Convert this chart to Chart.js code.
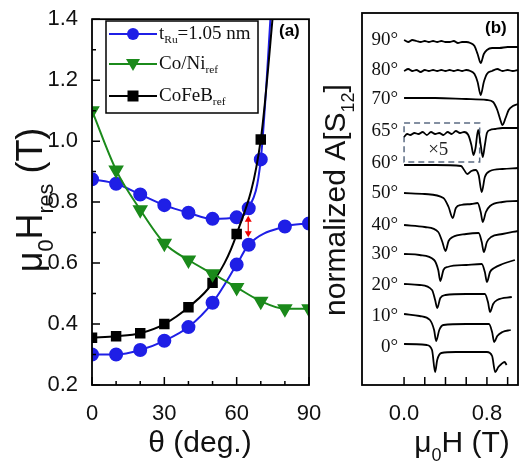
<!DOCTYPE html>
<html><head><meta charset="utf-8">
<script src="https://cdn.jsdelivr.net/npm/chart.js@4/dist/chart.umd.min.js"></script>
<style>body{margin:0;background:#fff;width:520px;height:466px;position:relative;overflow:hidden}
canvas{position:absolute;top:0}</style></head><body>
<canvas id="ca" width="330" height="466" style="left:0"></canvas>
<canvas id="cb" width="200" height="466" style="left:320px"></canvas>
<script>
// ---- Panel (a) data ----
const thetaBlueUp = [0,10,20,30,40,50,60,65,70,74.8];
const blueUp = [0.875,0.86,0.825,0.79,0.765,0.745,0.75,0.78,0.94,1.5];
const thetaBlueLow = [0,10,20,30,40,50,60,65,80,90];
const blueLow = [0.30,0.30,0.315,0.345,0.39,0.47,0.595,0.66,0.72,0.73];
const thetaGreen = [0,10,20,30,40,50,60,70,80,90];
const green = [1.10,0.905,0.775,0.665,0.61,0.565,0.52,0.475,0.45,0.45];
const thetaBlack = [0,10,20,30,40,50,60,70,76];
const black = [0.355,0.36,0.37,0.40,0.455,0.535,0.695,1.005,1.5];
const xTicksA = [0,30,60,90];
const yTicksA = [0.2,0.4,0.6,0.8,1.0,1.2,1.4];
// ---- Panel (b) data: field (T) and offset amplitude ----
const traces = [
 {label:'0°', x:[0,0.22,0.27,0.30,0.32,0.36,0.5,0.8,0.85,0.88,0.91,0.94,0.97,0.99], v:[4.6,4.5,4.0,1.8,3.0,3.7,3.8,3.8,3.4,1.8,2.3,2.6,2.8,2.5], ly:347},
 {label:'10°', x:[0,0.15,0.25,0.29,0.31,0.34,0.38,0.6,0.82,0.85,0.87,0.9,0.95,1.03], v:[7.6,7.4,7.0,6.0,4.9,6.0,6.5,6.6,6.6,5.8,4.8,5.4,5.8,6.0], ly:316},
 {label:'20°', x:[0,0.15,0.27,0.30,0.32,0.35,0.40,0.6,0.78,0.81,0.83,0.86,0.9,1.04], v:[10.6,10.5,10.0,9.0,8.2,9.2,9.5,9.6,9.6,8.8,7.8,8.6,9.0,9.3], ly:285},
 {label:'30°', x:[0,0.15,0.29,0.33,0.35,0.38,0.42,0.6,0.75,0.78,0.80,0.83,0.87,0.95,1.07], v:[13.6,13.5,13.0,12.0,10.9,12.0,12.3,12.5,12.6,11.8,10.8,11.8,12.2,12.6,13.0], ly:254},
 {label:'40°', x:[0,0.2,0.33,0.37,0.40,0.43,0.47,0.6,0.72,0.75,0.77,0.80,0.84,0.95,1.1], v:[16.5,16.3,15.8,14.8,13.9,14.9,15.3,15.6,15.7,14.8,13.8,14.8,15.3,15.6,15.9], ly:225},
 {label:'50°', x:[0,0.2,0.38,0.43,0.47,0.50,0.55,0.65,0.71,0.74,0.76,0.79,0.83,0.95,1.1], v:[19.7,19.6,19.2,18.3,17.2,18.2,18.5,18.6,18.7,17.8,16.8,17.8,18.4,18.8,18.9], ly:193},
 {label:'60°', x:[0,0.3,0.55,0.58,0.61,0.65,0.69,0.72,0.75,0.78,0.83,0.95,1.1], v:[22.5,22.5,22.4,22.0,21.6,21.9,22.0,21.5,19.8,21.3,21.9,22.1,22.2], ly:163},
 {label:'65°', x:[0,0.03,0.06,0.1,0.14,0.18,0.22,0.26,0.3,0.34,0.38,0.42,0.46,0.5,0.54,0.58,0.62,0.65,0.67,0.69,0.715,0.74,0.76,0.78,0.80,0.83,0.88,0.95,1.02,1.1], v:[25.3,25.6,25.5,25.7,25.6,25.8,25.5,25.8,25.6,25.7,25.5,25.8,25.6,25.9,25.7,25.8,25.5,24.5,23.5,24.2,26.0,24.5,23.3,24.5,25.7,26.0,26.1,26.2,26.2,26.2], ly:131},
 {label:'70°', x:[0,0.3,0.6,0.8,0.86,0.90,0.93,0.95,0.98,1.01,1.05,1.1], v:[29.2,29.2,29.1,29.0,28.8,28.0,27.0,26.5,27.2,28.0,28.4,28.6], ly:99},
 {label:'80°', x:[0,0.04,0.08,0.12,0.16,0.2,0.24,0.28,0.32,0.36,0.4,0.44,0.48,0.52,0.56,0.6,0.64,0.68,0.71,0.74,0.77,0.80,0.85,0.9,0.95,1.0,1.05,1.1], v:[31.9,32.1,31.9,32.0,31.8,32.0,31.9,32.0,31.9,32.0,31.9,32.0,31.9,32.0,31.9,32.0,31.9,31.6,30.8,29.5,30.8,31.6,31.9,32.1,31.9,32.0,31.9,32.0], ly:70},
 {label:'90°', x:[0,0.04,0.08,0.12,0.16,0.2,0.24,0.28,0.32,0.36,0.4,0.44,0.48,0.52,0.56,0.6,0.64,0.68,0.71,0.74,0.77,0.80,0.85,0.92,1.0,1.1], v:[35.0,34.8,35.0,34.9,34.8,34.9,34.8,34.9,34.8,34.9,34.8,34.8,34.9,34.7,34.8,34.8,34.7,34.4,33.6,32.7,33.6,34.0,34.2,34.2,34.3,34.3], ly:40}
];
const boxX = [0,0.73,0.73,0,0];
const boxV = [26.7,26.7,22.8,22.8,26.7];
const xTicksB = [0.0,0.8];

const BLUE='#1f1fe6', GREEN='#1b8a1b', BLK='#000';
const SANS='"Liberation Sans", Arial, sans-serif', SERIF='"Liberation Serif", "Times New Roman", serif';
const pts=(xs,ys)=>xs.map((x,i)=>({x,y:ys[i]}));

function drawSubText(ctx, parts, x, y, size, align, font){
  let w=0; parts.forEach(p=>{ctx.font=(p[1]?size*0.6:size)+'px '+font; w+=ctx.measureText(p[0]).width;});
  let cx = align==='center'? x-w/2 : x;
  parts.forEach(p=>{const s=p[1]?size*0.6:size; ctx.font=s+'px '+font; ctx.fillText(p[0],cx,y+(p[1]?size*0.3:0)); cx+=ctx.measureText(p[0]).width;});
}
function inwardTicks(ctx, chart, xs, xMajor, ys, yMajor){
  const a=chart.chartArea, sx=chart.scales.x, sy=chart.scales.y;
  ctx.strokeStyle='#000'; ctx.lineWidth=1.5; ctx.beginPath();
  xs.forEach(v=>{const p=sx.getPixelForValue(v); const L=xMajor(v)?8:4; ctx.moveTo(p,a.bottom); ctx.lineTo(p,a.bottom-L);});
  ys.forEach(v=>{const p=sy.getPixelForValue(v); const L=yMajor(v)?8:4; ctx.moveTo(a.left,p); ctx.lineTo(a.left+L,p);});
  ctx.stroke();
  ctx.lineWidth=1.8; ctx.strokeRect(a.left,a.top,a.right-a.left,a.bottom-a.top);
}
function marker(ctx,type,x,y,c){
  ctx.fillStyle=c; ctx.beginPath();
  if(type==='circle'){ctx.arc(x,y,6,0,Math.PI*2);}
  else if(type==='tri'){ctx.moveTo(x-7,y-5);ctx.lineTo(x+7,y-5);ctx.lineTo(x,y+7);ctx.closePath();}
  else {ctx.rect(x-5.5,y-5.5,11,11);}
  ctx.fill();
}
const plugA={id:'pa',afterDraw(chart){
  const ctx=chart.ctx; ctx.save();
  const xs=[];for(let v=0;v<=90;v+=10)xs.push(v);
  const ys=[];for(let v=2;v<=14;v++)ys.push(v/10);
  inwardTicks(ctx,chart,xs,v=>v%30===0,ys,v=>Math.round(v*10)%2===0);
  ctx.fillStyle='#fff'; ctx.fillRect(106,21,152,92);
  ctx.lineWidth=1.5; ctx.strokeStyle='#000'; ctx.strokeRect(106,21,152,92);
  const rows=[[34,BLUE,'circle',[['t'],['Ru',1],['=1.05 nm']]],[64,GREEN,'tri',[['Co/Ni'],['ref',1]]],[96,BLK,'rect',[['CoFeB'],['ref',1]]]];
  rows.forEach(r=>{ctx.strokeStyle=r[1];ctx.lineWidth=2;ctx.beginPath();ctx.moveTo(109,r[0]);ctx.lineTo(157,r[0]);ctx.stroke();
    marker(ctx,r[2],133,r[0],r[1]); ctx.fillStyle='#111'; ctx.textBaseline='middle'; drawSubText(ctx,r[3],159,r[0],19,'left',SERIF);});
  ctx.fillStyle='#000'; ctx.font='bold 17px '+SANS; ctx.textBaseline='middle'; ctx.textAlign='left'; ctx.fillText('(a)',279,31);
  const sx=chart.scales.x, sy=chart.scales.y; const ax=sx.getPixelForValue(64.8), y1=sy.getPixelForValue(0.755), y2=sy.getPixelForValue(0.685);
  ctx.strokeStyle='#e00'; ctx.fillStyle='#e00'; ctx.lineWidth=1.2; ctx.beginPath(); ctx.moveTo(ax,y1+3); ctx.lineTo(ax,y2-3); ctx.stroke();
  ctx.beginPath();ctx.moveTo(ax,y1);ctx.lineTo(ax-3.5,y1+6);ctx.lineTo(ax+3.5,y1+6);ctx.fill();
  ctx.beginPath();ctx.moveTo(ax,y2);ctx.lineTo(ax-3.5,y2-6);ctx.lineTo(ax+3.5,y2-6);ctx.fill();
  ctx.fillStyle='#111'; ctx.textAlign='left'; ctx.textBaseline='alphabetic';
  drawSubText(ctx,[['θ (deg.)']],200,452,30,'center',SANS);
  ctx.save(); ctx.translate(42,200); ctx.rotate(-Math.PI/2);
  drawSubText(ctx,[['μ'],['0',1],['H'],['res',1],[' (T)']],0,0,36,'center',SANS); ctx.restore();
  ctx.restore();
}};
const lineDS=(data,c,style,rot,hide)=>({data,borderColor:c,backgroundColor:c,borderWidth:2,pointStyle:style,pointRotation:rot||0,
  pointRadius:data.map((_,i)=>hide&&i===data.length-1?0:(style==='triangle'?7:6)),cubicInterpolationMode:'monotone'});
new Chart(document.getElementById('ca'),{type:'line',data:{datasets:[
  lineDS(pts(thetaGreen,green),GREEN,'triangle',180),
  lineDS(pts(thetaBlack,black),BLK,'rect',0,true),
  lineDS(pts(thetaBlueLow,blueLow),BLUE,'circle'),
  lineDS(pts(thetaBlueUp,blueUp),BLUE,'circle',0,true)
]},options:{responsive:false,animation:false,devicePixelRatio:1,
  layout:{padding:{top:13,right:21,left:0,bottom:0}},
  plugins:{legend:{display:false},tooltip:{enabled:false}},
  scales:{
   x:{type:'linear',min:0,max:90,afterFit:s=>{s.height=81;},grid:{display:false},border:{display:false},
      afterBuildTicks:s=>{s.ticks=xTicksA.map(v=>({value:v}));},
      ticks:{color:'#111',font:{family:SANS,size:22},padding:8,maxRotation:0}},
   y:{type:'linear',min:0.2,max:1.4,afterFit:s=>{s.width=92;},grid:{display:false},border:{display:false},
      afterBuildTicks:s=>{s.ticks=yTicksA.map(v=>({value:v}));},
      ticks:{color:'#111',font:{family:SANS,size:22},padding:6,callback:v=>v.toFixed(1)}}
  }},plugins:[plugA]});

const plugB={id:'pb',afterDraw(chart){
  const ctx=chart.ctx; ctx.save();
  const xs=[];for(let v=0;v<=10;v+=2)xs.push(v/10);
  inwardTicks(ctx,chart,xs,()=>true,[],()=>true);
  const sx=chart.scales.x, sy=chart.scales.y;
  ctx.fillStyle='#111'; ctx.textBaseline='middle'; ctx.textAlign='right'; ctx.font='19px '+SERIF;
  traces.forEach(t=>ctx.fillText(t.label,78,t.ly));
  ctx.textAlign='center'; ctx.fillStyle='#222';
  ctx.fillText('×5',sx.getPixelForValue(0.33),sy.getPixelForValue(24.0));
  ctx.fillStyle='#000'; ctx.font='bold 17px '+SANS; ctx.textAlign='left'; ctx.fillText('(b)',165,28);
  ctx.textBaseline='alphabetic'; ctx.fillStyle='#111';
  drawSubText(ctx,[['μ'],['0',1],['H (T)']],142,452,30,'center',SANS);
  ctx.save(); ctx.translate(25,200); ctx.rotate(-Math.PI/2);
  drawSubText(ctx,[['normalized A[S'],['12',1],[']']],0,0,30,'center',SANS); ctx.restore();
  ctx.restore();
}};
const dsB=traces.map(t=>({data:pts(t.x,t.v),borderColor:'#000',borderWidth:1.8,pointRadius:0,cubicInterpolationMode:'monotone'}));
dsB.push({data:pts(boxX,boxV),borderColor:'#5b6b82',borderWidth:1.5,borderDash:[6,4],pointRadius:0,tension:0});
new Chart(document.getElementById('cb'),{type:'line',data:{datasets:dsB},options:{responsive:false,animation:false,devicePixelRatio:1,
  layout:{padding:{top:13,right:2,left:0,bottom:0}},
  plugins:{legend:{display:false},tooltip:{enabled:false}},
  scales:{
   x:{type:'linear',min:-0.406,max:1.10,afterFit:s=>{s.height=81;},grid:{display:false},border:{display:false},
      afterBuildTicks:s=>{s.ticks=xTicksB.map(v=>({value:v}));},
      ticks:{color:'#111',font:{family:SANS,size:22},padding:8,maxRotation:0,callback:v=>v.toFixed(1)}},
   y:{type:'linear',min:0.5,max:37.7,afterFit:s=>{s.width=42;},grid:{display:false},border:{display:false},ticks:{display:false}}
  }},plugins:[plugB]});
</script></body></html>
